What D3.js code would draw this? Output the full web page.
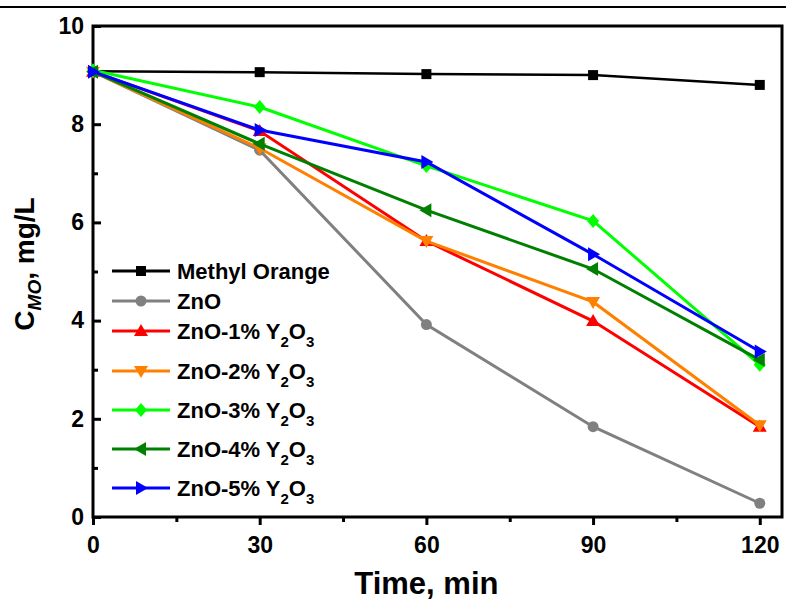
<!DOCTYPE html>
<html>
<head>
<meta charset="utf-8">
<script src="https://cdn.jsdelivr.net/npm/d3@7"></script>
<style>
  body { margin: 0; background: #fff; }
  svg { font-family: "Liberation Sans", Arial, sans-serif; font-weight: bold; }
</style>
</head>
<body>
<svg width="786" height="604"></svg>
<script>
var times = [0, 30, 60, 90, 120];
var seriesNames = ["Methyl Orange", "ZnO", "ZnO-1%", "ZnO-2%", "ZnO-3%", "ZnO-4%", "ZnO-5%"];
var methylOrange = [9.08, 9.06, 9.02, 9.0, 8.8];
var zno = [9.07, 7.47, 3.92, 1.84, 0.28];
var zno1 = [9.07, 7.86, 5.62, 3.99, 1.84];
var zno2 = [9.07, 7.51, 5.62, 4.38, 1.87];
var zno3 = [9.1, 8.35, 7.15, 6.03, 3.1];
var zno4 = [9.07, 7.6, 6.25, 5.05, 3.2];
var zno5 = [9.07, 7.88, 7.23, 5.35, 3.37];
var yTicks = [0, 2, 4, 6, 8, 10];
var xTicks = [0, 30, 60, 90, 120];

var colors = ["#000000", "#808080", "#ff0000", "#ff8000", "#00ff00", "#008000", "#0000ff"];
var shapes = ["square", "circle", "up", "down", "diamond", "left", "right"];
var allValues = [methylOrange, zno, zno1, zno2, zno3, zno4, zno5];

var svg = d3.select("svg");
var margin = {top: 26, left: 93, right: 4, bottom: 87};
var width = +svg.attr("width") - margin.left - margin.right;
var height = +svg.attr("height") - margin.top - margin.bottom;

var x = d3.scaleLinear().domain([0, 124]).range([0, width]);
var y = d3.scaleLinear().domain([0, 10]).range([height, 0]);

// page header line
svg.append("line").attr("x1", 0).attr("x2", 786).attr("y1", 7).attr("y2", 7)
    .attr("stroke", "#000").attr("stroke-width", 2);

var g = svg.append("g").attr("transform", "translate(" + margin.left + "," + margin.top + ")");

// frame
g.append("rect").attr("width", width).attr("height", height)
    .attr("fill", "none").attr("stroke", "#000").attr("stroke-width", 3);

// x axis
var xAxis = g.append("g").attr("transform", "translate(0," + height + ")")
    .call(d3.axisBottom(x).tickValues(xTicks).tickSize(8).tickPadding(12));
xAxis.select(".domain").remove();
xAxis.selectAll("line").attr("stroke-width", 3);
xAxis.selectAll("text").style("font-size", "23px").style("font-weight", "bold")
    .style("font-family", "Liberation Sans, Arial, sans-serif");
g.append("g").attr("transform", "translate(0," + height + ")")
    .call(d3.axisBottom(x).tickValues([15, 45, 75, 105]).tickSize(5).tickFormat(""))
    .call(function(a) { a.select(".domain").remove(); a.selectAll("line").attr("stroke-width", 3); });

// y axis, inward ticks
var yAxis = g.append("g")
    .call(d3.axisLeft(y).tickValues(yTicks).tickSizeInner(-8).tickSizeOuter(0).tickPadding(9));
yAxis.select(".domain").remove();
yAxis.selectAll("line").attr("stroke-width", 3);
yAxis.selectAll("text").style("font-size", "23px").style("font-weight", "bold")
    .style("font-family", "Liberation Sans, Arial, sans-serif");
g.append("g")
    .call(d3.axisLeft(y).tickValues([1, 3, 5, 7, 9]).tickSizeInner(-5).tickSizeOuter(0).tickFormat(""))
    .call(function(a) { a.select(".domain").remove(); a.selectAll("line").attr("stroke-width", 3); });

// axis titles
svg.append("text").attr("x", margin.left + x(60)).attr("y", 594)
    .attr("text-anchor", "middle").style("font-size", "31px").text("Time, min");

var yl = svg.append("text").attr("transform", "translate(34,264) rotate(-90)")
    .attr("text-anchor", "middle").style("font-size", "28px");
yl.append("tspan").text("C");
yl.append("tspan").attr("dy", 7).style("font-size", "19px").style("font-style", "italic").text("MO");
yl.append("tspan").attr("dy", -7).text(", mg/L");

function symbol(sel, shape, color, cx, cy) {
  var pts;
  if (shape == "square") {
    sel.append("rect").attr("x", cx - 5).attr("y", cy - 5).attr("width", 10).attr("height", 10).attr("fill", color);
    return;
  }
  if (shape == "circle") {
    sel.append("circle").attr("cx", cx).attr("cy", cy).attr("r", 5.5).attr("fill", color);
    return;
  }
  if (shape == "up") pts = [[cx, cy - 7], [cx + 7, cy + 5], [cx - 7, cy + 5]];
  if (shape == "down") pts = [[cx, cy + 7], [cx + 7, cy - 5], [cx - 7, cy - 5]];
  if (shape == "left") pts = [[cx - 7, cy], [cx + 5, cy - 7], [cx + 5, cy + 7]];
  if (shape == "right") pts = [[cx + 7, cy], [cx - 5, cy - 7], [cx - 5, cy + 7]];
  if (shape == "diamond") pts = [[cx, cy - 7], [cx + 6, cy], [cx, cy + 7], [cx - 6, cy]];
  sel.append("polygon").attr("points", pts.map(function(p) { return p.join(","); }).join(" ")).attr("fill", color);
}

var line = d3.line().x(function(d, i) { return x(times[i]); }).y(function(d) { return y(d); });

allValues.forEach(function(vals, k) {
  var sg = g.append("g");
  sg.append("path").datum(vals).attr("d", line)
      .attr("fill", "none").attr("stroke", colors[k]).attr("stroke-width", k == 0 ? 2.5 : 3);
  vals.forEach(function(v, i) { symbol(sg, shapes[k], colors[k], x(times[i]), y(v)); });
});

// legend
var legendY = [271, 301, 331, 371, 410, 449, 488];
seriesNames.forEach(function(name, k) {
  var ly = legendY[k];
  svg.append("line").attr("x1", 112).attr("x2", 170).attr("y1", ly).attr("y2", ly)
      .attr("stroke", colors[k]).attr("stroke-width", 3);
  symbol(svg, shapes[k], colors[k], 141, ly);
  var t = svg.append("text").attr("x", 177).attr("y", ly + 8).style("font-size", "22px").text(name);
  if (k >= 2) {
    t.append("tspan").text(" Y");
    t.append("tspan").attr("dy", 8).style("font-size", "15px").text("2");
    t.append("tspan").attr("dy", -8).text("O");
    t.append("tspan").attr("dy", 8).style("font-size", "15px").text("3");
  }
});
</script>
</body>
</html>
